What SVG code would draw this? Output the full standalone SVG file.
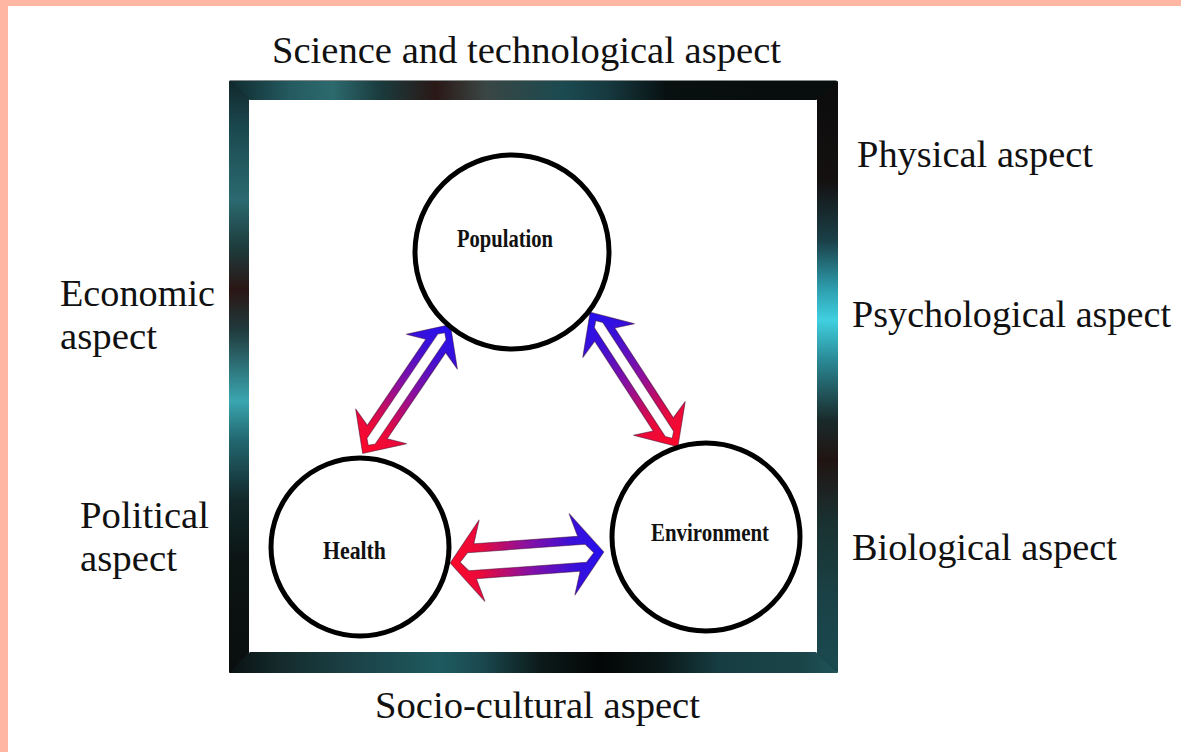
<svg xmlns="http://www.w3.org/2000/svg" width="1181" height="752" viewBox="0 0 1181 752">
<style>
.lbl{font-family:"Liberation Serif","Times New Roman",serif;font-size:38px;fill:#111;}
.nlbl{font-family:"Liberation Serif","Times New Roman",serif;font-size:26px;font-weight:bold;fill:#111;}
.node{fill:#fff;stroke:#000;stroke-width:5;}
.arr{fill:url(#rb);fill-rule:evenodd;stroke:#3a0a30;stroke-width:1;stroke-opacity:0.5;}
</style>
<defs>
<linearGradient id="rb" x1="0" y1="0" x2="1" y2="0">
<stop offset="0" stop-color="#ff0828"/>
<stop offset="0.2" stop-color="#e80a3c"/>
<stop offset="0.5" stop-color="#8a10a0"/>
<stop offset="0.8" stop-color="#3a10d8"/>
<stop offset="1" stop-color="#2410f0"/>
</linearGradient>
<linearGradient id="gTop" gradientUnits="userSpaceOnUse" x1="229" y1="0" x2="838" y2="0">
<stop offset="0" stop-color="#0f2a2e"/>
<stop offset="0.1" stop-color="#245a60"/>
<stop offset="0.17" stop-color="#2c6a6e"/>
<stop offset="0.25" stop-color="#1a3a3c"/>
<stop offset="0.34" stop-color="#2a1816"/>
<stop offset="0.42" stop-color="#3a4644"/>
<stop offset="0.55" stop-color="#1a4a50"/>
<stop offset="0.62" stop-color="#163a40"/>
<stop offset="0.72" stop-color="#081010"/>
<stop offset="1" stop-color="#080c0c"/>
</linearGradient>
<linearGradient id="gLeft" gradientUnits="userSpaceOnUse" x1="0" y1="81" x2="0" y2="673">
<stop offset="0" stop-color="#12282c"/>
<stop offset="0.083" stop-color="#1a4a50"/>
<stop offset="0.2" stop-color="#2a6a70"/>
<stop offset="0.285" stop-color="#1e3a3a"/>
<stop offset="0.353" stop-color="#2a1614"/>
<stop offset="0.42" stop-color="#203a3c"/>
<stop offset="0.54" stop-color="#3aa6b0"/>
<stop offset="0.606" stop-color="#226870"/>
<stop offset="0.708" stop-color="#12282a"/>
<stop offset="0.81" stop-color="#0c1414"/>
<stop offset="1" stop-color="#0a0e0e"/>
</linearGradient>
<linearGradient id="gRight" gradientUnits="userSpaceOnUse" x1="0" y1="81" x2="0" y2="673">
<stop offset="0" stop-color="#0c0c0c"/>
<stop offset="0.167" stop-color="#141010"/>
<stop offset="0.27" stop-color="#1a4048"/>
<stop offset="0.353" stop-color="#2ea0b0"/>
<stop offset="0.404" stop-color="#40d0e0"/>
<stop offset="0.471" stop-color="#2a8a96"/>
<stop offset="0.573" stop-color="#1a2a2a"/>
<stop offset="0.64" stop-color="#201412"/>
<stop offset="0.74" stop-color="#1a3030"/>
<stop offset="0.877" stop-color="#1a4246"/>
<stop offset="1" stop-color="#1a4a50"/>
</linearGradient>
<linearGradient id="gBot" gradientUnits="userSpaceOnUse" x1="229" y1="0" x2="838" y2="0">
<stop offset="0" stop-color="#0a1212"/>
<stop offset="0.084" stop-color="#142a2c"/>
<stop offset="0.182" stop-color="#1a3e42"/>
<stop offset="0.346" stop-color="#1e5a60"/>
<stop offset="0.412" stop-color="#1a4a50"/>
<stop offset="0.511" stop-color="#0c1a1a"/>
<stop offset="0.609" stop-color="#040606"/>
<stop offset="0.708" stop-color="#0a1818"/>
<stop offset="0.806" stop-color="#163e42"/>
<stop offset="0.938" stop-color="#1a4448"/>
<stop offset="1" stop-color="#1e5458"/>
</linearGradient>
<path id="hArrow" class="arr" d="M -77 0 L -45 -41 L -52 -17.5 L 52 -17.5 L 45 -41 L 77 0 L 45 41 L 52 17.5 L -52 17.5 L -45 41 Z M -67 0 L -59 9 L 59 9 L 67 0 L 59 -9 L -59 -9 Z"/>
<path id="dArrow" class="arr" d="M -78 0 L -45 -31 L -52 -12 L 52 -12 L 45 -31 L 78 0 L 45 31 L 52 12 L -52 12 L -45 31 Z M -68 0 L -63 5 L 63 5 L 68 0 L 63 -5 L -63 -5 Z"/>
</defs>

<rect x="0" y="0" width="1181" height="752" fill="#fff"/>
<rect x="0" y="0" width="1181" height="6" fill="#ffb6a2"/>
<rect x="0" y="0" width="8" height="752" fill="#ffb6a2"/>

<g id="frame">
<rect x="239" y="90" width="588" height="573" fill="none" stroke="#0c1818" stroke-width="19"/>
<polygon points="229,81 838,81 816,100 250,100" fill="url(#gTop)"/>
<polygon points="229,81 249,99 249,653 229,673" fill="url(#gLeft)"/>
<polygon points="838,81 817,99 817,653 838,673" fill="url(#gRight)"/>
<polygon points="250,652 816,652 838,673 229,673" fill="url(#gBot)"/>
</g>

<g id="aspects">
<text class="lbl" x="272" y="63" textLength="509" lengthAdjust="spacingAndGlyphs">Science and technological aspect</text>
<text class="lbl" x="857" y="167" textLength="236" lengthAdjust="spacingAndGlyphs">Physical aspect</text>
<text class="lbl" x="60" y="306" textLength="155" lengthAdjust="spacingAndGlyphs">Economic</text>
<text class="lbl" x="60" y="349" textLength="97" lengthAdjust="spacingAndGlyphs">aspect</text>
<text class="lbl" x="852" y="327" textLength="319" lengthAdjust="spacingAndGlyphs">Psychological aspect</text>
<text class="lbl" x="80" y="528" textLength="129" lengthAdjust="spacingAndGlyphs">Political</text>
<text class="lbl" x="80" y="571" textLength="97" lengthAdjust="spacingAndGlyphs">aspect</text>
<text class="lbl" x="852" y="560" textLength="265" lengthAdjust="spacingAndGlyphs">Biological aspect</text>
<text class="lbl" x="375" y="718" textLength="325" lengthAdjust="spacingAndGlyphs">Socio-cultural aspect</text>
</g>

<g id="connectors">
<use href="#hArrow" transform="translate(527,557.5) rotate(-4.1)"/>
<use href="#dArrow" transform="translate(406.5,389) rotate(-55.8)"/>
<use href="#dArrow" transform="translate(634,379.5) rotate(-123.1) scale(1.03,1)"/>
</g>

<g id="population">
<circle class="node" cx="512" cy="252" r="97"/>
<text class="nlbl" x="457" y="247" textLength="96" lengthAdjust="spacingAndGlyphs">Population</text>
</g>
<g id="health">
<circle class="node" cx="360" cy="547" r="89"/>
<text class="nlbl" x="323" y="559" textLength="63" lengthAdjust="spacingAndGlyphs">Health</text>
</g>
<g id="environment">
<circle class="node" cx="706" cy="537" r="94"/>
<text class="nlbl" x="651" y="541" textLength="118" lengthAdjust="spacingAndGlyphs">Environment</text>
</g>
</svg>
